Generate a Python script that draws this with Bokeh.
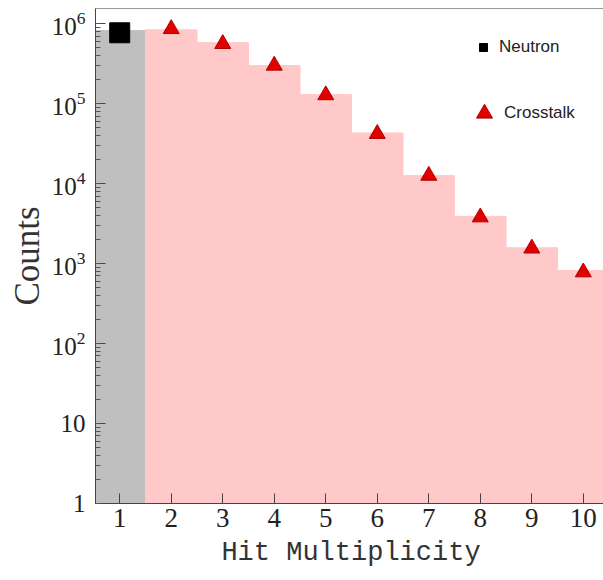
from bokeh.plotting import figure
from bokeh.models import Range1d, Legend, LegendItem, LogTickFormatter, FixedTicker, ColumnDataSource
from bokeh.embed import file_html
from bokeh.resources import INLINE

# ---- data ----
multiplicity = [1, 2, 3, 4, 5, 6, 7, 8, 9, 10]
neutron_x = [1]
neutron_hist = [8.2e5]
neutron_marker = [7.7e5]
crosstalk_x = [2, 3, 4, 5, 6, 7, 8, 9, 10]
crosstalk_hist = [8.4e5, 5.8e5, 3.0e5, 1.3e5, 4.3e4, 1.26e4, 3.9e3, 1.58e3, 8.2e2]
crosstalk_marker = [8.6e5, 5.6e5, 3.0e5, 1.28e5, 4.2e4, 1.26e4, 3.8e3, 1.55e3, 7.8e2]
x_tick_labels = [str(v) for v in multiplicity]
y_plain_ticks = {1: "1", 10: "10"}

n_src = ColumnDataSource(dict(
    left=[v - 0.5 for v in neutron_x], right=[v + 0.5 for v in neutron_x],
    top=neutron_hist, bottom=[1] * len(neutron_x), x=neutron_x, m=neutron_marker))
c_src = ColumnDataSource(dict(
    left=[v - 0.5 for v in crosstalk_x], right=[v + 0.5 for v in crosstalk_x],
    top=crosstalk_hist, bottom=[1] * len(crosstalk_x), x=crosstalk_x, m=crosstalk_marker))

p = figure(width=606, height=580, title=None,
           x_range=Range1d(0.53, 10.45), y_range=Range1d(1, 1.55e6),
           y_axis_type="log", output_backend="svg", toolbar_location=None,
           min_border_left=95, min_border_right=0, min_border_top=8, min_border_bottom=77)

p.xgrid.visible = False
p.ygrid.visible = False
p.outline_line_color = "#9a9a9a"
p.background_fill_color = "white"

p.quad(left="left", right="right", top="top", bottom="bottom", source=n_src,
       fill_color="#bfbfbf", line_color="#bfbfbf", line_width=1)
p.quad(left="left", right="right", top="top", bottom="bottom", source=c_src,
       fill_color="#ffc9c9", line_color="#ffc9c9", line_width=1)

r_n = p.scatter(x="x", y="m", source=n_src, marker="square", size=20,
                fill_color="black", line_color="black")
r_c = p.scatter(x="x", y="m", source=c_src, marker="triangle", size=16,
                fill_color="#e00000", line_color="#b00000")

# axes
xa = p.xaxis[0]
xa.ticker = FixedTicker(ticks=multiplicity)
xa.major_label_overrides = {m: s for m, s in zip(multiplicity, x_tick_labels)}
xa.major_tick_in = 10
xa.major_tick_out = 0
xa.minor_tick_line_color = None
xa.axis_line_color = "#444444"
xa.major_tick_line_color = "#444444"
xa.major_label_text_font = "Liberation Serif"
xa.major_label_text_font_size = "27px"
xa.major_label_text_color = "#222222"
xa.major_label_standoff = 5
xa.axis_label = "Hit Multiplicity"
xa.axis_label_text_font = "Liberation Mono"
xa.axis_label_text_font_style = "normal"
xa.axis_label_text_font_size = "27px"
xa.axis_label_text_color = "#333333"
xa.axis_label_standoff = 8

ya = p.yaxis[0]
ya.formatter = LogTickFormatter(min_exponent=1)
ya.major_label_overrides = y_plain_ticks
ya.major_tick_in = 10
ya.major_tick_out = 0
ya.minor_tick_in = 5
ya.minor_tick_out = 0
ya.axis_line_color = "#444444"
ya.major_tick_line_color = "#444444"
ya.minor_tick_line_color = "#555555"
ya.major_label_text_font = "Liberation Serif"
ya.major_label_text_font_size = "25px"
ya.major_label_text_color = "#222222"
ya.major_label_standoff = 10
ya.axis_label = "Counts"
ya.axis_label_text_font = "Liberation Serif"
ya.axis_label_text_font_style = "normal"
ya.axis_label_text_font_size = "35px"
ya.axis_label_text_color = "#333333"
ya.axis_label_standoff = 2

leg1 = Legend(items=[LegendItem(label="Neutron", renderers=[r_n])],
              location=(378, 446), glyph_width=20, glyph_height=20, label_standoff=6,
              padding=0, margin=0, border_line_alpha=0, background_fill_alpha=0,
              label_text_font="Liberation Sans", label_text_font_size="17px",
              label_text_color="#222222")
leg2 = Legend(items=[LegendItem(label="Crosstalk", renderers=[r_c])],
              location=(369, 370), glyph_width=40, glyph_height=40, label_standoff=-4,
              padding=0, margin=0, border_line_alpha=0, background_fill_alpha=0,
              label_text_font="Liberation Sans", label_text_font_size="17px",
              label_text_color="#222222")
p.add_layout(leg1)
p.add_layout(leg2)

open("out.html", "w").write(file_html(p, INLINE))
